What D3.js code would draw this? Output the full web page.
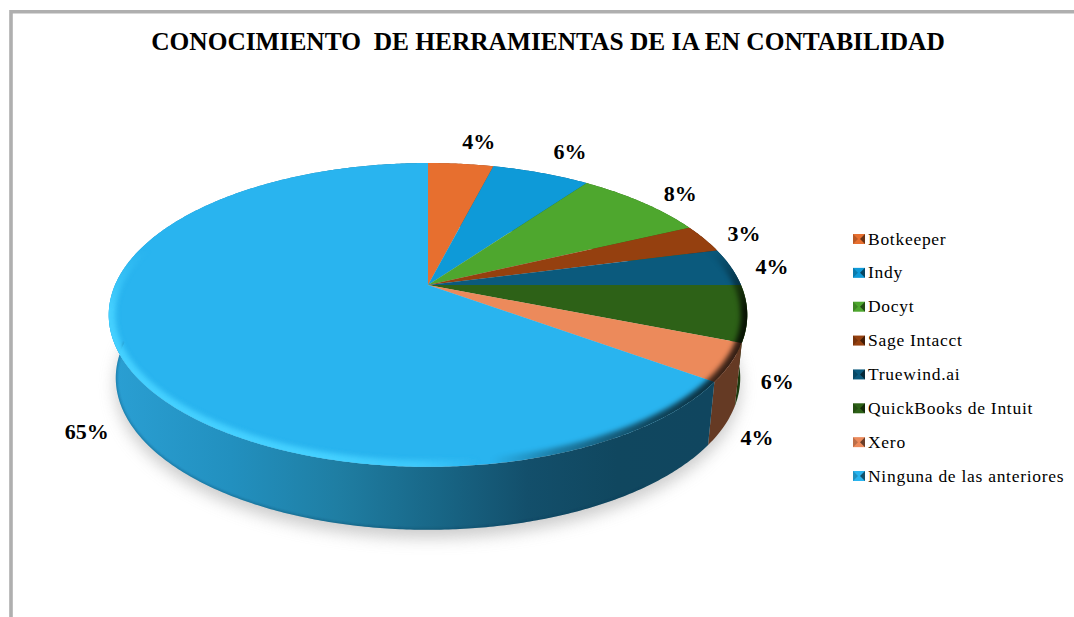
<!DOCTYPE html>
<html><head><meta charset="utf-8">
<script src="https://cdn.jsdelivr.net/npm/d3@7"></script>
<style>html,body{margin:0;padding:0;background:#fff}svg{display:block}
text{font-family:"Liberation Serif","Times New Roman",serif;fill:#000}</style>
</head><body><div id="chart"></div>
<script>
const title = "CONOCIMIENTO  DE HERRAMIENTAS DE IA EN CONTABILIDAD";
const categories = ["Botkeeper","Indy","Docyt","Sage Intacct","Truewind.ai","QuickBooks de Intuit","Xero","Ninguna de las anteriores"];
const values = [4,6,8,3,4,6,4,65];
const topColors = ["#e76f2f","#0e9ad8","#4ea72e","#95400f","#0b5a7d","#2d6117","#ec8a5b","#29b4ef"];
const wallColors = ["#8a431c","#085c82","#2f641b","#592609","#06364b","#1b3a0e","#653a24","url(#wallBlue)"];
const labelShift = [[18,-23],[29,-22],[38,-9],[40,-5],[41,-1],[30,68],[26,75],[-35,74]];

const W=1074,H=617;
const svg=d3.select("#chart").append("svg").attr("width",W).attr("height",H);
const defs=svg.append("defs");

// frame
svg.append("path").attr("d",`M11 ${H} V11.7 H${W}`).attr("fill","none").attr("stroke","#afafaf").attr("stroke-width",3.6);

svg.append("text").attr("x",548).attr("y",50).attr("text-anchor","middle")
  .attr("font-size",25.4).attr("font-weight","bold").style("white-space","pre").text(title);

// perspective projection of the unit disc
const cx=428,cy=285,A=313,B=146,p=0.197,depth=63,shrink=0.978;
const proj=t=>{const x=Math.sin(t),y=-Math.cos(t),w=1-p*y;return [cx+A*x/w,cy+B*y/w];};
const projB=t=>{const q=proj(t);return [cx+(q[0]-cx)*shrink,q[1]+depth];};
const samples=(a,b,f)=>{const n=Math.max(2,Math.ceil(Math.abs(b-a)/0.01));return d3.range(n+1).map(i=>f(a+(b-a)*i/n));};
const line=d3.line();

const arcs=d3.pie().sort(null).value(d=>d)(values);

// filters
const blur=(id,s)=>defs.append("filter").attr("id",id).attr("filterUnits","userSpaceOnUse").attr("x",0).attr("y",0).attr("width",W).attr("height",H)
  .append("feGaussianBlur").attr("stdDeviation",s);
blur("shadowBlur",8);blur("rimBlur",2.4);blur("edgeBlur",1);

// gradients
const grad=(id,x1,x2,stops)=>{const g=defs.append("linearGradient").attr("id",id).attr("gradientUnits","userSpaceOnUse")
  .attr("x1",x1).attr("x2",x2).attr("y1",0).attr("y2",0);
  stops.forEach(s=>g.append("stop").attr("offset",s[0]).attr("stop-color",s[1]).attr("stop-opacity",s[2]===undefined?1:s[2]));};
grad("wallBlue",112,706,[[0,"#2a9fd3"],[.2,"#2290bf"],[.38,"#1f7ea3"],[.55,"#186686"],[.7,"#134f6b"],[.85,"#10475f"],[1,"#10465f"]]);
grad("rim",109,746,[[0,"#44d0ff",1],[.35,"#44d0ff",1],[.49,"#44d0ff",.7],[.58,"#44d0ff",0],[.6,"#000",0],[.7,"#000",.3],[.85,"#000",.6],[1,"#000",.8]]);
const fade=defs.append("linearGradient").attr("id","fade").attr("gradientUnits","userSpaceOnUse").attr("x1",0).attr("x2",0).attr("y1",250).attr("y2",310);
fade.append("stop").attr("offset",0).attr("stop-color","#000");
fade.append("stop").attr("offset",1).attr("stop-color","#fff");
defs.append("mask").attr("id","rimMask").attr("maskUnits","userSpaceOnUse").attr("x",0).attr("y",0).attr("width",W).attr("height",H)
  .append("rect").attr("width",W).attr("height",H).attr("fill","url(#fade)");

// drop shadow
svg.append("path").attr("d",line(samples(0,2*Math.PI,projB))+"Z")
  .attr("transform","translate(0,8)").attr("fill","#a8a8a8").attr("opacity",.6).attr("filter","url(#shadowBlur)");

// walls
const g=svg.append("g");
g.selectAll("path.wall").data(arcs).join("path").attr("class","wall")
  .attr("d",d=>line([...samples(d.startAngle,d.endAngle,proj),...samples(d.endAngle,d.startAngle,projB)])+"Z")
  .attr("fill",(d,i)=>wallColors[i]);

// dark lower edge of the wall
defs.append("clipPath").attr("id","wallClip").append("path")
  .attr("d",line([...samples(2.5,4.75,proj),...samples(4.75,2.5,projB)])+"Z");
svg.append("g").attr("clip-path","url(#wallClip)").append("path")
  .attr("d",line(samples(2.5,4.75,projB))).attr("fill","none").attr("stroke","#0a3a52").attr("stroke-opacity",.3)
  .attr("stroke-width",3).attr("filter","url(#edgeBlur)");

// top faces
const topPath=d=>line([[cx,cy],...samples(d.startAngle,d.endAngle,proj)])+"Z";
g.selectAll("path.top").data(arcs).join("path").attr("class","top")
  .attr("d",topPath).attr("fill",(d,i)=>topColors[i]);

// rim bevel, clipped to the top face
defs.append("clipPath").attr("id","topClip").append("path").attr("d",line(samples(0,2*Math.PI,proj))+"Z");
const rimG=svg.append("g").attr("clip-path","url(#topClip)").append("g").attr("mask","url(#rimMask)");
rimG.append("path").attr("d",line(samples(1.0,5.2,proj))).attr("fill","none")
  .attr("stroke","url(#rim)").attr("stroke-width",13).attr("filter","url(#rimBlur)");

// value labels
svg.selectAll("text.val").data(arcs).join("text").attr("class","val")
  .attr("x",(d,i)=>proj((d.startAngle+d.endAngle)/2)[0]+labelShift[i][0])
  .attr("y",(d,i)=>proj((d.startAngle+d.endAngle)/2)[1]+labelShift[i][1])
  .attr("dy","0.35em").attr("text-anchor","middle").attr("font-size",22).attr("font-weight","bold")
  .text(d=>d.value+"%");

// legend
const ly=d3.scalePoint().domain(categories).range([239,476]);
const lg=svg.selectAll("g.leg").data(categories).join("g").attr("class","leg").attr("transform",d=>`translate(853,${ly(d)})`);
lg.append("rect").attr("x",0).attr("y",-5).attr("width",12).attr("height",10).attr("fill",(d,i)=>topColors[i]);
lg.append("path").attr("d","M12 -5 L7 0 L12 5Z").attr("fill","#000").attr("opacity",.55);
lg.append("path").attr("d","M0 -5 L5 0 L0 5Z").attr("fill","#000").attr("opacity",.2);
lg.append("text").attr("x",15).attr("y",0).attr("dy","0.32em").attr("font-size",17.5).attr("letter-spacing",.72).text(d=>d);
</script></body></html>
